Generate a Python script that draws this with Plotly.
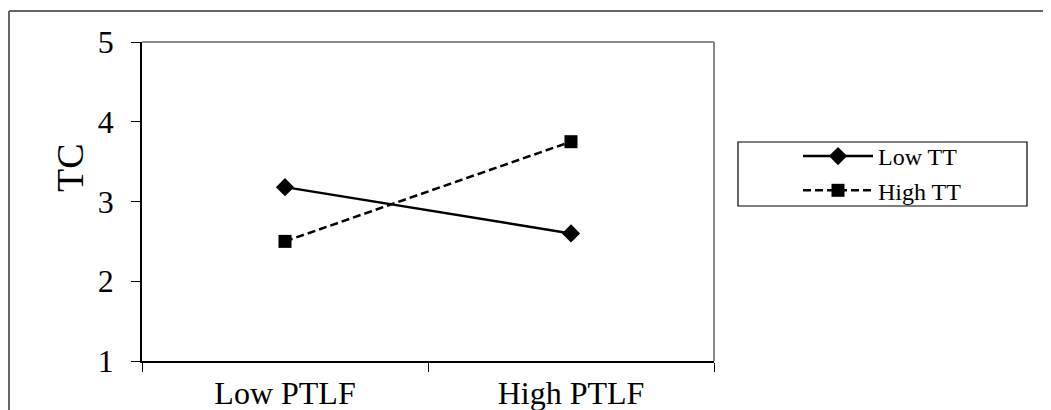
import plotly.graph_objects as go

categories = ["Low PTLF", "High PTLF"]
low_tt = [3.18, 2.60]
high_tt = [2.50, 3.75]
series_names = ["Low TT", "High TT"]
y_ticks = [1, 2, 3, 4, 5]
y_title = "TC"

FONT = "Liberation Serif, Times New Roman, serif"

# Page has an 8px body margin: figure coordinates = page coordinates - 8
W, H = 1043, 402
PL, PT, PW, PH = 134, 34, 572, 319  # plot area in figure px


def px_x(x):
    return (x - PL) / PW


def px_y(y):
    return (PT + PH - y) / PH


fig = go.Figure()
fig.add_trace(go.Scatter(
    x=categories, y=low_tt, name=series_names[0], mode="lines+markers",
    legendgroup="a",
    line=dict(color="black", width=2.5, dash="solid"),
    marker=dict(symbol="diamond", size=14, color="black"),
))
fig.add_trace(go.Scatter(
    x=categories, y=high_tt, name=series_names[1], mode="lines+markers",
    legendgroup="b",
    line=dict(color="black", width=2.5, dash="8px,4px"),
    marker=dict(symbol="square", size=13, color="black"),
))

fig.update_layout(
    width=W, height=H,
    margin=dict(l=PL, r=W - PL - PW, t=PT, b=H - PT - PH, autoexpand=False),
    paper_bgcolor="white", plot_bgcolor="white",
    font=dict(family=FONT, color="black"),
    showlegend=True,
    legend=dict(
        x=px_x(790), y=px_y(126), xanchor="left", yanchor="top",
        font=dict(family=FONT, size=24, color="black"),
        bgcolor="rgba(0,0,0,0)", borderwidth=0,
        itemwidth=70, traceorder="grouped", tracegroupgap=0,
    ),
    xaxis=dict(
        type="category", tickson="boundaries", ticks="outside", ticklen=9,
        tickcolor="black", tickwidth=1,
        showline=True, linecolor="black", linewidth=1.5,
        showgrid=False, zeroline=False, automargin=False,
        tickfont=dict(family=FONT, size=32, color="black"),
        ticklabelstandoff=3,
        range=[-0.5, 1.5],
    ),
    yaxis=dict(
        range=[1, 5], tickvals=y_ticks, ticks="outside", ticklen=9,
        tickcolor="black", tickwidth=1,
        showline=True, linecolor="black", linewidth=1.5,
        showgrid=False, zeroline=False, automargin=False,
        tickfont=dict(family=FONT, size=32, color="black"),
        ticklabelstandoff=11,
    ),
    annotations=[
        dict(text=y_title, xref="paper", yref="paper", x=px_x(62), y=px_y(160),
             xanchor="center", yanchor="middle", textangle=-90, showarrow=False,
             font=dict(family=FONT, size=38, color="black")),
    ],
    shapes=[
        dict(type="line", xref="paper", yref="paper", x0=0, x1=1, y0=1, y1=1,
             line=dict(color="#8a8a8a", width=2)),
        dict(type="line", xref="paper", yref="paper", x0=1, x1=1, y0=0, y1=1,
             line=dict(color="#8a8a8a", width=2)),
        dict(type="rect", xref="paper", yref="paper",
             x0=px_x(730), x1=px_x(1019), y0=px_y(198), y1=px_y(134),
             line=dict(color="black", width=1.2), fillcolor="rgba(0,0,0,0)"),
        dict(type="line", xref="paper", yref="paper",
             x0=px_x(1), x1=px_x(W + 10), y0=px_y(3), y1=px_y(3),
             line=dict(color="#666666", width=2)),
        dict(type="line", xref="paper", yref="paper",
             x0=px_x(1), x1=px_x(1), y0=px_y(3), y1=px_y(H + 10),
             line=dict(color="#666666", width=2)),
    ],
)

fig.write_html("out.html")
